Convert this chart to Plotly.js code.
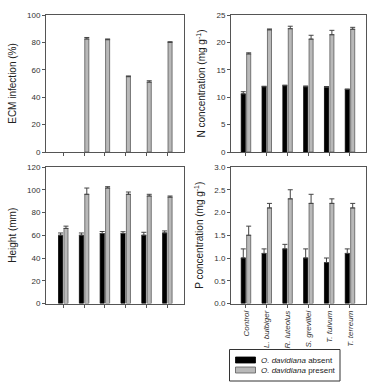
<!DOCTYPE html>
<html>
<head>
<meta charset="utf-8">
<script src="https://cdn.plot.ly/plotly-3.0.1.min.js"></script>
<style>
html,body{margin:0;padding:0;background:#fff;}
#chart{width:384px;height:389px;}
</style>
</head>
<body>
<div id="chart"></div>
<script>
// Categories and tick labels
var categories = ["Control", "L. bulbiger", "R. luteolus", "S. grevillei", "T. fulvum", "T. terreum"];
var tickLabels = ["<i>Control</i>", "<i>L. bulbiger</i>", "<i>R. luteolus</i>", "<i>S. grevillei</i>", "<i>T. fulvum</i>", "<i>T. terreum</i>"];

// ECM infection (%)
var ecmAbsent = [0, 0, 0, 0, 0, 0];
var ecmAbsentErr = [0, 0, 0, 0, 0, 0];
var ecmPresent = [0, 82.5, 82, 55, 51, 80];
var ecmPresentErr = [0, 1.1, 0.5, 0.5, 1, 0.5];

// N concentration (mg g-1)
var nAbsent = [10.6, 11.9, 12.1, 11.9, 11.8, 11.4];
var nAbsentErr = [0.4, 0.1, 0.1, 0.15, 0.15, 0.1];
var nPresent = [17.9, 22.3, 22.5, 20.6, 21.4, 22.4];
var nPresentErr = [0.2, 0.15, 0.45, 0.7, 0.8, 0.35];

// Height (mm)
var hAbsent = [60, 60, 61.5, 61.5, 60, 62];
var hAbsentErr = [2, 2, 1.8, 1.6, 2.6, 1.8];
var hPresent = [66, 96, 101.5, 96, 94.5, 93.5];
var hPresentErr = [2, 5.5, 1.2, 2, 1.5, 1];

// P concentration (mg g-1)
var pAbsent = [1.0, 1.1, 1.2, 1.0, 0.9, 1.1];
var pAbsentErr = [0.2, 0.1, 0.1, 0.2, 0.1, 0.1];
var pPresent = [1.5, 2.1, 2.3, 2.2, 2.2, 2.1];
var pPresentErr = [0.2, 0.1, 0.2, 0.2, 0.1, 0.1];

// Legend labels
var legendLabels = ["<i>O. davidiana</i> absent", "<i>O. davidiana</i> present"];

var absentColor = "#000000", presentColor = "#b9b9b9", presentLine = "#5a5a5a";

function mk(y, err, kind, xa, ya) {
  var isAbsent = kind === "absent";
  // a zero mean is not drawn in the reference (no bar, no cap)
  var yy = y.map(function (v) { return v === 0 ? null : v; });
  return {
    type: "bar",
    x: categories,
    y: yy,
    name: isAbsent ? legendLabels[0] : legendLabels[1],
    showlegend: false,
    xaxis: xa, yaxis: ya,
    marker: {
      color: isAbsent ? absentColor : presentColor,
      line: {color: isAbsent ? absentColor : presentLine, width: 0.8}
    },
    error_y: {
      type: "data", symmetric: false, array: err,
      arrayminus: err.map(function () { return 0; }),
      color: "#444", thickness: 1, width: 2.5
    },
    hoverinfo: "skip"
  };
}

var data = [
  mk(ecmAbsent, ecmAbsentErr, "absent", "x", "y"),
  mk(ecmPresent, ecmPresentErr, "present", "x", "y"),
  mk(nAbsent, nAbsentErr, "absent", "x2", "y2"),
  mk(nPresent, nPresentErr, "present", "x2", "y2"),
  mk(hAbsent, hAbsentErr, "absent", "x3", "y3"),
  mk(hPresent, hPresentErr, "present", "x3", "y3"),
  mk(pAbsent, pAbsentErr, "absent", "x4", "y4"),
  mk(pPresent, pPresentErr, "present", "x4", "y4")
];

var W = 384, H = 389;
var font = "Liberation Sans, Arial, sans-serif";
var lineCol = "#555";

function xax(l, r, rng, labels, anchor) {
  return {
    domain: [l / W, r / W], anchor: anchor, type: "category",
    range: rng, showline: true, linecolor: lineCol, linewidth: 1, mirror: true,
    ticks: "outside", ticklen: 3, tickcolor: lineCol,
    showgrid: false, zeroline: false, fixedrange: true,
    showticklabels: labels,
    tickmode: "array", tickvals: categories, ticktext: tickLabels,
    tickangle: -90, tickfont: {family: font, size: 8, color: "#333"}
  };
}
function yax(top, bot, rng, dt, title, fmt, anchor) {
  var a = {
    domain: [1 - bot / H, 1 - top / H], anchor: anchor,
    range: rng, dtick: dt, tick0: 0,
    showline: true, linecolor: lineCol, linewidth: 1, mirror: true,
    ticks: "outside", ticklen: 3, tickcolor: lineCol,
    showgrid: false, zeroline: false, fixedrange: true,
    tickfont: {family: font, size: 8, color: "#333"},
    title: {text: title, font: {family: font, size: 10, color: "#222"}, standoff: 8}
  };
  if (fmt) a.tickformat = fmt;
  return a;
}

// Hand-built legend (box, swatches, labels) in pixel positions
function px(x) { return x / W; }
function py(y) { return 1 - y / H; }
var shapes = [
  {type: "rect", xref: "paper", yref: "paper", x0: px(229.5), x1: px(340), y0: py(349.5), y1: py(381),
   line: {color: "#333", width: 1}, fillcolor: "rgba(0,0,0,0)"},
  {type: "rect", xref: "paper", yref: "paper", x0: px(235.5), x1: px(255.5), y0: py(357), y1: py(363),
   line: {color: absentColor, width: 0.8}, fillcolor: absentColor},
  {type: "rect", xref: "paper", yref: "paper", x0: px(235.5), x1: px(255.5), y0: py(367), y1: py(373),
   line: {color: presentLine, width: 0.8}, fillcolor: presentColor}
];
var annotations = [
  {xref: "paper", yref: "paper", x: px(259.5), y: py(360), xanchor: "left", yanchor: "middle",
   text: legendLabels[0], showarrow: false, borderpad: 0, font: {family: font, size: 8, color: "#222"}},
  {xref: "paper", yref: "paper", x: px(259.5), y: py(370.3), xanchor: "left", yanchor: "middle",
   text: legendLabels[1], showarrow: false, borderpad: 0, font: {family: font, size: 8, color: "#222"}}
];

var layout = {
  width: W, height: H,
  margin: {l: 0, r: 0, t: 0, b: 0},
  paper_bgcolor: "#fff", plot_bgcolor: "#fff",
  barmode: "group", bargap: 0.48, bargroupgap: 0.25,
  font: {family: font, size: 9, color: "#222"},
  showlegend: false,
  shapes: shapes,
  annotations: annotations,
  xaxis: xax(46, 184, [-0.83, 5.8], false, "y"),
  yaxis: yax(15, 152, [0, 100], 20, "ECM infection (%)", null, "x"),
  xaxis2: xax(231, 366, [-0.72, 5.77], false, "y2"),
  yaxis2: yax(15, 152, [0, 25], 5, "N concentration (mg g<sup>-1</sup>)", null, "x2"),
  xaxis3: xax(46, 184, [-0.83, 5.8], false, "y3"),
  yaxis3: yax(167, 303.5, [0, 120], 20, "Height (mm)", null, "x3"),
  xaxis4: xax(231, 366, [-0.72, 5.77], true, "y4"),
  yaxis4: yax(167, 303.5, [0, 3], 0.5, "P concentration (mg g<sup>-1</sup>)", ".1f", "x4")
};

Plotly.newPlot("chart", data, layout, {displayModeBar: false, staticPlot: true});
</script>
</body>
</html>
